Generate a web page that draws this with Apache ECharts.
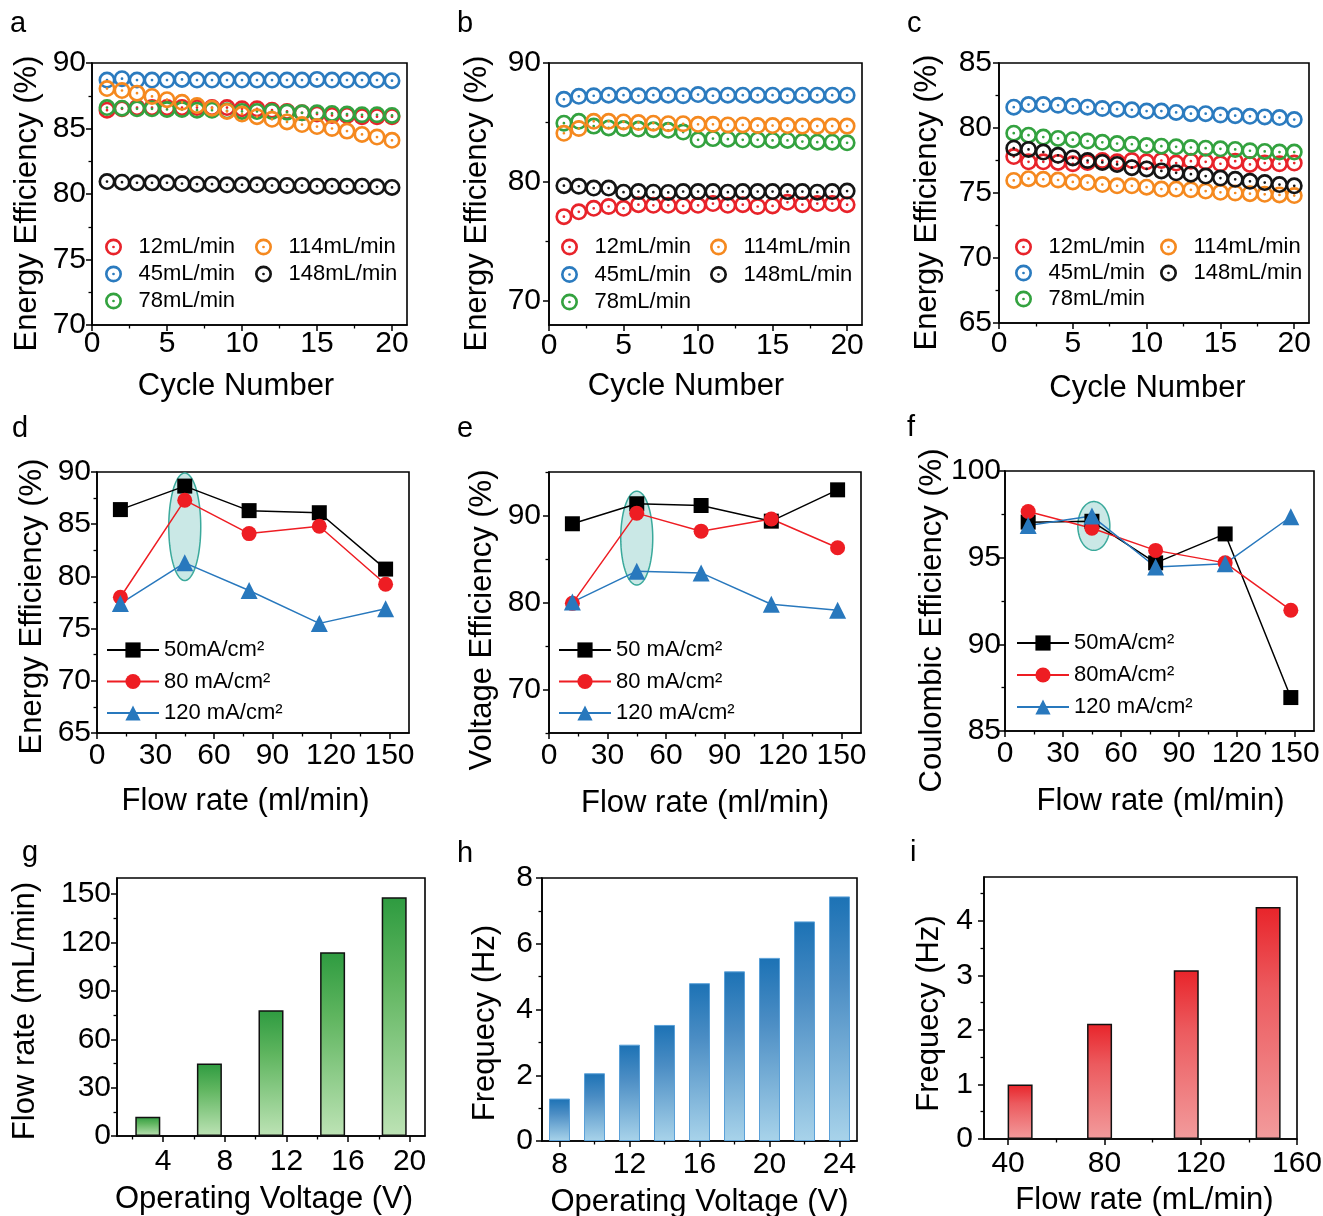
<!DOCTYPE html>
<html><head><meta charset="utf-8">
<script src="https://cdn.jsdelivr.net/npm/echarts@6/dist/echarts.min.js"></script>
<style>html,body{margin:0;padding:0;background:#fff}#c{width:1323px;height:1216px}</style>
</head><body><div id="c"></div>
<script>
// ---------------- data ----------------
const cycles = [1,2,3,4,5,6,7,8,9,10,11,12,13,14,15,16,17,18,19,20];
const flowNames = ['12mL/min','45mL/min','78mL/min','114mL/min','148mL/min'];

const a12  = [86.4,86.5,86.6,86.6,86.6,86.6,86.6,86.6,86.6,86.5,86.5,86.4,86.3,86.2,86.1,86.0,86.0,85.9,85.9,85.9];
const a45  = [88.7,88.8,88.7,88.7,88.7,88.75,88.7,88.7,88.7,88.7,88.7,88.7,88.7,88.7,88.75,88.7,88.7,88.7,88.7,88.65];
const a78  = [86.6,86.55,86.5,86.5,86.45,86.45,86.4,86.4,86.35,86.3,86.3,86.3,86.25,86.2,86.2,86.15,86.1,86.05,86.05,86.0];
const a114 = [88.05,87.9,87.7,87.45,87.2,87.0,86.75,86.55,86.3,86.1,85.9,85.7,85.5,85.3,85.15,85.0,84.8,84.55,84.35,84.1];
const a148 = [80.95,80.9,80.85,80.85,80.85,80.8,80.75,80.75,80.7,80.7,80.7,80.65,80.65,80.65,80.6,80.6,80.6,80.6,80.55,80.5];

const b12  = [77.1,77.5,77.8,77.95,77.8,78.1,78.05,78.05,78.0,78.05,78.2,78.05,78.1,77.95,78.0,78.3,78.1,78.2,78.2,78.1];
const b45  = [86.95,87.2,87.25,87.3,87.3,87.25,87.3,87.3,87.25,87.35,87.25,87.3,87.3,87.3,87.3,87.25,87.3,87.3,87.3,87.3];
const b78  = [84.95,85.1,84.7,84.55,84.5,84.45,84.4,84.35,84.2,83.55,83.65,83.6,83.55,83.55,83.5,83.5,83.4,83.35,83.35,83.3];
const b114 = [84.1,84.5,85.1,85.1,85.05,85.0,84.95,84.9,84.9,84.85,84.85,84.8,84.8,84.75,84.75,84.75,84.7,84.7,84.7,84.7];
const b148 = [79.7,79.65,79.5,79.5,79.15,79.2,79.15,79.13,79.2,79.2,79.2,79.15,79.2,79.2,79.2,79.2,79.2,79.15,79.2,79.25];

const c12  = [77.8,77.4,77.4,77.35,77.25,77.35,77.5,77.4,77.5,77.4,77.5,77.3,77.45,77.4,77.25,77.45,77.2,77.3,77.25,77.3];
const c45  = [81.6,81.8,81.8,81.75,81.67,81.6,81.5,81.45,81.4,81.3,81.3,81.2,81.1,81.1,81.0,80.95,80.9,80.85,80.8,80.65];
const c78  = [79.6,79.45,79.3,79.2,79.1,79.0,78.9,78.8,78.75,78.65,78.6,78.55,78.5,78.45,78.4,78.35,78.25,78.2,78.15,78.15];
const c114 = [75.97,76.1,76.05,76.0,75.85,75.8,75.65,75.55,75.55,75.45,75.3,75.3,75.25,75.15,75.05,75.0,74.95,74.9,74.85,74.8];
const c148 = [78.45,78.35,78.15,77.9,77.7,77.5,77.35,77.2,76.95,76.85,76.7,76.55,76.45,76.3,76.15,76.05,75.9,75.8,75.65,75.55];

const flowRates = [12,45,78,114,148];
const d50  = [86.4,88.65,86.3,86.1,80.7];
const d80  = [78.0,87.3,84.1,84.8,79.25];
const d120 = [77.4,81.3,78.65,75.5,76.9];
const e50  = [89.05,91.35,91.15,89.35,92.95];
const e80  = [79.9,90.27,88.2,89.6,86.3];
const e120 = [80.05,83.6,83.4,79.8,79.1];
const f50  = [97.05,97.1,94.7,96.37,86.93];
const f80  = [97.66,96.7,95.42,94.7,91.97];
const f120 = [96.85,97.4,94.46,94.65,97.36];
const dNames = ['50mA/cm²','80 mA/cm²','120 mA/cm²'];
const eNames = ['50 mA/cm²','80 mA/cm²','120 mA/cm²'];
const fNames = ['50mA/cm²','80mA/cm²','120 mA/cm²'];
// highlighted point: [flow rate, lower EE, upper EE]
const dHighlight = [45, 79.6, 89.9];
const eHighlight = [45, 82.0, 92.8];
const fHighlight = [46, 95.42, 98.24];

const gVoltage = [3,7,11,15,19];
const gFlow    = [12,45,78,114,148];
const hVoltage = [8,10,12,14,16,18,20,22,24];
const hFreq    = [1.29,2.06,2.93,3.53,4.8,5.16,5.57,6.68,7.44];
const iFlow    = [45,78,114,148];
const iFreq    = [1.0,2.11,3.09,4.25];

// tick labels
const cycleTicks = [0,5,10,15,20];
const aYTicks = [70,75,80,85,90];
const bYTicks = [70,80,90];
const cYTicks = [65,70,75,80,85];
const flowTicks = [0,30,60,90,120,150];
const dYTicks = [65,70,75,80,85,90];
const eYTicks = [70,80,90];
const fYTicks = [85,90,95,100];
const gXTicks = [4,8,12,16,20];
const gYTicks = [0,30,60,90,120,150];
const hXTicks = [8,12,16,20,24];
const hYTicks = [0,2,4,6,8];
const iXTicks = [40,80,120,160];
const iYTicks = [0,1,2,3,4];

// ---------------- build ----------------
const FONT = '"Liberation Sans", Arial, Helvetica, sans-serif';
const TICK_FS = 30, NAME_FS = 31, LEG_FS = 22;
const RING = 'path://M0,-10A10,10,0,1,1,0,10A10,10,0,1,1,0,-10ZM0,-6.9A6.9,6.9,0,1,0,0,6.9A6.9,6.9,0,1,0,0,-6.9ZM0,-1.6A1.6,1.6,0,1,1,0,1.6A1.6,1.6,0,1,1,0,-1.6Z';
const ringColors = ['#e8232a','#2b7bbf','#33a23f','#f5891f','#151515'];
const lineColors = ['#000000','#ee1d23','#2878bd'];
const lineSymbols = ['rect','circle','triangle'];

function minorOf(ticks, min, max) {
  const step = ticks[1] - ticks[0], out = [];
  for (let v = ticks[0] - step / 2; v <= max + 1e-9; v += step) if (v >= min - 1e-9) out.push(+v.toFixed(6));
  return out;
}

const panels = [
 {grid:{left:92,top:63,width:315,height:262},
  x:{min:0,max:21,ticks:cycleTicks,name:'Cycle Number',gap:46,margin:4,shift:-13.5},
  y:{min:70,max:90,ticks:aYTicks,name:'Energy Efficiency (%)',gap:49,margin:6,shift:9.5}, letter:['a',10,9]},
 {grid:{left:549,top:63,width:313,height:262},
  x:{min:0,max:21,ticks:cycleTicks,name:'Cycle Number',gap:46,margin:6,shift:-19.5},
  y:{min:68,max:90,ticks:bYTicks,name:'Energy Efficiency (%)',gap:56,margin:8,shift:9.5}, letter:['b',457,9]},
 {grid:{left:999,top:63,width:310,height:260},
  x:{min:0,max:21,ticks:cycleTicks,name:'Cycle Number',gap:50,margin:6,shift:-6.5},
  y:{min:65,max:85,ticks:cYTicks,name:'Energy Efficiency (%)',gap:56,margin:7,shift:9.5}, letter:['c',907,9]},
 {grid:{left:97,top:472,width:312,height:261},
  x:{min:0,max:160,ticks:flowTicks,name:'Flow rate (ml/min)',gap:53,margin:8,shift:-7.5},
  y:{min:65,max:90,ticks:dYTicks,name:'Energy Efficiency (%)',gap:49,margin:6,shift:4}, letter:['d',12,414]},
 {grid:{left:549,top:472,width:312,height:261},
  x:{min:0,max:160,ticks:flowTicks,name:'Flow rate (ml/min)',gap:55,margin:8,shift:0},
  y:{min:65,max:95,ticks:eYTicks,name:'Voltage Efficiency (%)',gap:51,margin:8,shift:17.5}, letter:['e',457,414]},
 {grid:{left:1005,top:471,width:309,height:260},
  x:{min:0,max:160,ticks:flowTicks,name:'Flow rate (ml/min)',gap:55,margin:8,shift:1},
  y:{min:85,max:100,ticks:fYTicks,name:'Coulombic Efficiency (%)',gap:57,margin:4,shift:19.5}, letter:['f',907,413]},
 {grid:{left:117,top:878,width:308,height:258},
  x:{min:1,max:21,ticks:gXTicks,name:'Operating Voltage (V)',gap:48,margin:11,shift:-7},
  y:{min:0,max:160,ticks:gYTicks,name:'Flow rate (mL/min)',gap:76,margin:6,shift:4}, letter:['g',22,838]},
 {grid:{left:542,top:878,width:315,height:263},
  x:{min:7,max:25,ticks:hXTicks,name:'Operating Voltage (V)',gap:46,margin:9,shift:0},
  y:{min:0,max:8,ticks:hYTicks,name:'Frequecy (Hz)',gap:41,margin:9,shift:13.5}, letter:['h',457,839]},
 {grid:{left:984,top:877,width:313,height:262},
  x:{min:30,max:160,ticks:iXTicks,name:'Flow rate (mL/min)',gap:46,margin:10,shift:4},
  y:{min:0,max:4.8,ticks:iYTicks,name:'Frequecy (Hz)',gap:39,margin:11,shift:5.5}, letter:['i',910,838]}
];

const option = {backgroundColor:'#fff', animation:false, grid:[], xAxis:[], yAxis:[], legend:[], series:[], graphic:[]};

function mainAxis(dim, gi, a) {
  let pad;
  if (dim === 'x') pad = a.shift >= 0 ? [0,0,0,2*a.shift] : [0,-2*a.shift,0,0];
  else pad = a.shift >= 0 ? [0,2*a.shift,0,0] : [0,0,0,-2*a.shift];
  return {type:'value', gridIndex:gi, position: dim === 'x' ? 'bottom' : 'left', min:a.min, max:a.max,
    name:a.name, nameLocation:'middle', nameGap:a.gap, nameMoveOverlap:false,
    nameTextStyle:{fontFamily:FONT, fontSize:NAME_FS, color:'#000', padding:pad},
    axisLine:{show:true, onZero:false, lineStyle:{color:'#000', width:1.6}},
    axisTick:{show:true, inside:false, length:6, customValues:a.ticks, lineStyle:{color:'#000', width:1.5}},
    minorTick:{show:false}, splitLine:{show:false}, splitArea:{show:false},
    axisLabel:{show:true, customValues:a.ticks, margin:a.margin, fontFamily:FONT, fontSize:TICK_FS, color:'#000', hideOverlap:false}};
}
function minorAxis(dim, gi, a) {
  return {type:'value', gridIndex:gi, position: dim === 'x' ? 'bottom' : 'left', min:a.min, max:a.max,
    axisLine:{show:false}, axisLabel:{show:false}, splitLine:{show:false},
    axisTick:{show:true, inside:false, length:3.5, customValues:minorOf(a.ticks, a.min, a.max), lineStyle:{color:'#000', width:1.3}}};
}

const ax = panels.map((p, gi) => {
  option.grid.push(Object.assign({}, p.grid, {show:true, borderColor:'#000', borderWidth:1.6, containLabel:false, outerBoundsMode:'none'}));
  const xi = option.xAxis.length, yi = option.yAxis.length;
  option.xAxis.push(mainAxis('x', gi, p.x), minorAxis('x', gi, p.x));
  option.yAxis.push(mainAxis('y', gi, p.y), minorAxis('y', gi, p.y));
  option.graphic.push({type:'text', left:p.letter[1], top:p.letter[2],
    style:{text:p.letter[0], fontSize:29, fontFamily:FONT, fill:'#000'}});
  return {xi, yi};
});

// panels a-c: cycling scatter
[[a12,a45,a78,a114,a148],[b12,b45,b78,b114,b148],[c12,c45,c78,c114,c148]].forEach((set, pi) => {
  set.forEach((arr, k) => {
    option.series.push({type:'scatter', name:flowNames[k], xAxisIndex:ax[pi].xi, yAxisIndex:ax[pi].yi,
      symbol:RING, symbolSize:17, symbolKeepAspect:true, itemStyle:{color:ringColors[k], opacity:1},
      data:cycles.map((c, j) => [c, arr[j]]), z:3+k, emphasis:{disabled:true}});
  });
});
const ringLegendPos = [[105,255,236,5],[561,710,236,5.5],[1015,1160,236,4]];
ringLegendPos.forEach(([l1,l2,t,g]) => {
  const base = {orient:'vertical', top:t, itemWidth:40, itemHeight:17, itemGap:g, padding:0, selectedMode:false, symbolKeepAspect:true,
    textStyle:{fontFamily:FONT, fontSize:LEG_FS, color:'#000'}};
  option.legend.push(Object.assign({}, base, {left:l1, data:flowNames.slice(0,3)}));
  option.legend.push(Object.assign({}, base, {left:l2, data:flowNames.slice(3)}));
});

// panels d-f: lines + highlight ellipse
function ellipseSeries(hl, a) {
  return {type:'custom', xAxisIndex:a.xi, yAxisIndex:a.yi, z:1, silent:true, data:[hl],
    renderItem:(params, api) => {
      const x = api.value(0), lo = api.value(1), hi = api.value(2);
      const pLo = api.coord([x, lo]), pHi = api.coord([x, hi]);
      const cx = pLo[0], cy = (pLo[1] + pHi[1]) / 2, ry = Math.abs(pLo[1] - pHi[1]) / 2, rx = 16;
      const pts = [];
      for (let k = 0; k < 90; k++) { const t = k / 90 * 2 * Math.PI; pts.push([cx + rx * Math.cos(t), cy + ry * Math.sin(t)]); }
      return {type:'polygon', shape:{points:pts}, style:{fill:'rgba(150,210,205,0.5)', stroke:'#3aa99b', lineWidth:1.5}};
    }};
}
[[d50,d80,d120,dNames,dHighlight],[e50,e80,e120,eNames,eHighlight],[f50,f80,f120,fNames,fHighlight]].forEach((s, j) => {
  const a = ax[3 + j];
  option.series.push(ellipseSeries(s[4], a));
  [s[0], s[1], s[2]].forEach((arr, k) => {
    option.series.push({type:'line', name:s[3][k], xAxisIndex:a.xi, yAxisIndex:a.yi,
      data:flowRates.map((x, m) => [x, arr[m]]), symbol:lineSymbols[k], symbolSize:k === 2 ? 17 : 15, showSymbol:true,
      lineStyle:{color:lineColors[k], width:1.5}, itemStyle:{color:lineColors[k]}, z:3, emphasis:{disabled:true}});
  });
});
const lineLegendPos = [[106,639,9.5,dNames],[558,639,9.5,eNames],[1016,632,10,fNames]];
lineLegendPos.forEach(([l,t,g,names]) => {
  option.legend.push({orient:'vertical', left:l, top:t, itemWidth:52, itemHeight:19, itemGap:g, padding:0, selectedMode:false,
    textStyle:{fontFamily:FONT, fontSize:LEG_FS, color:'#000'}, data:names});
});

// panels g-i: bars
function grad(c0, c1, c2) {
  return new echarts.graphic.LinearGradient(0, 0, 0, 1, [{offset:0, color:c0}, {offset:0.35, color:c1}, {offset:1, color:c2}]);
}
option.series.push({type:'bar', xAxisIndex:ax[6].xi, yAxisIndex:ax[6].yi, barWidth:25,
  data:gVoltage.map((v, k) => [v, gFlow[k]]),
  itemStyle:{color:grad('#2e9b40','#5fb55f','#bde3b5'), borderColor:'#111', borderWidth:1.5}});
option.series.push({type:'bar', xAxisIndex:ax[7].xi, yAxisIndex:ax[7].yi, barWidth:21,
  data:hVoltage.map((v, k) => [v, hFreq[k]]),
  itemStyle:{color:grad('#1c72b5','#4b8dc4','#a8d3ea'), borderColor:'#5aa0d8', borderWidth:1}});
option.series.push({type:'bar', xAxisIndex:ax[8].xi, yAxisIndex:ax[8].yi, barWidth:25,
  data:iFlow.map((v, k) => [v, iFreq[k]]),
  itemStyle:{color:grad('#e8242a','#ec5a5e','#f29b9c'), borderColor:'#111', borderWidth:1.5}});

const chart = echarts.init(document.getElementById('c'), null, {renderer:'canvas', width:1323, height:1216});
chart.setOption(option);
</script>
</body></html>
